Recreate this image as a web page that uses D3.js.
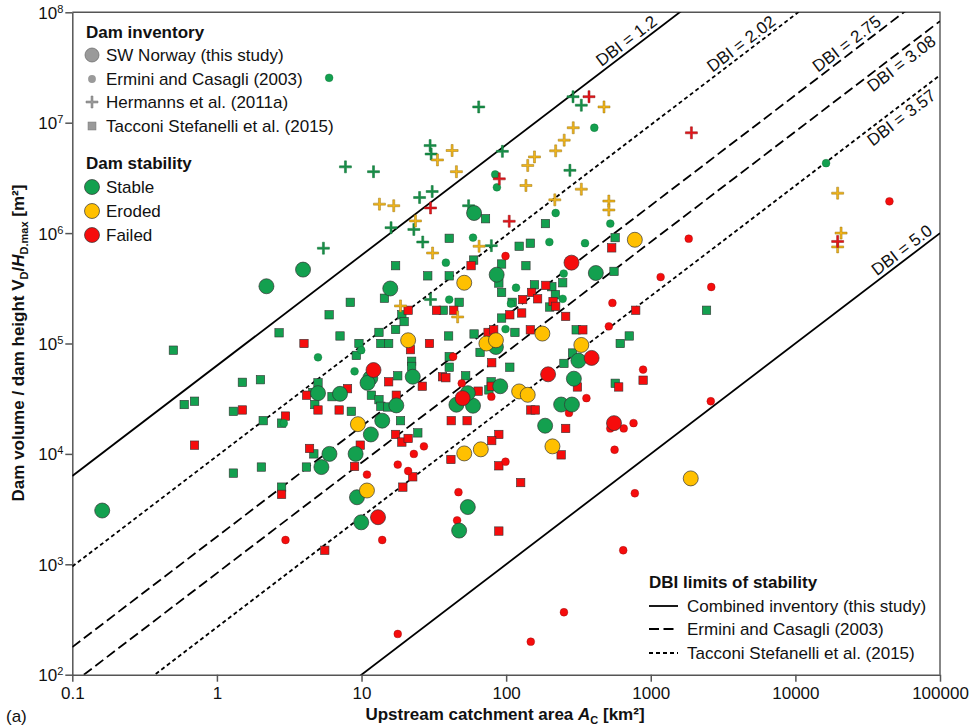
<!DOCTYPE html>
<html><head><meta charset="utf-8">
<script src="https://cdn.jsdelivr.net/npm/d3@7"></script>
<style>
body{margin:0;background:#fff;}
text{font-family:"Liberation Sans",Arial,Helvetica,sans-serif;fill:#111;}
</style>
</head><body>
<svg id="chart" width="969" height="728"></svg>
<script>
// ---------------- DATA ([catchment area km², V/H m²]) ----------------
const norwayStable = [[0.161,3070],[2.2,3.3e5],[3.94,4.67e5],[60,1.52e6],[86,4.2e5],[417,4.35e5],[15.8,3.15e5],
 [5.0,3.55e4],[7.1,3.5e4],[11.5,4.86e4],[11,4.4e4],[22.6,5.0e4],[17.4,2.75e4],[13.9,2.0e4],[11.6,1.5e4],
 [6.0,1.0e4],[9.1,1.0e4],[5.28,7.6e3],[9.3,4.05e3],[9.95,2.4e3],[54.3,3.3e3],[47.3,2.02e3],[85,9.3e4],
 [91,4.1e4],[45.3,2.79e4],[59,2.73e4],[54.3,3.55e4],[316,7.0e4],[294,4.8e4],[240,2.8e4],[285,2.8e4],[186,1.8e4]];
const norwayEroded = [[51.3,3.55e5],[21,1.07e5],[73,1.0e5],[85,1.07e5],[178,1.23e5],[331,9.7e4],[123,3.68e4],
 [141,3.43e4],[9.44,1.86e4],[209,1.17e4],[51.3,1.01e4],[66.8,1.1e4],[10.9,4.66e3],[1890,6.0e3],[776,8.7e5]];
const norwayFailed = [[283,5.4e5],[12.1,5.75e4],[390,7.4e4],[195,5.26e4],[50,3.2e4],[557,1.9e4],[13.0,2.67e3]];

const erminiStable = [[5.97,2.55e7],[407,9.0e6],[84,3.4e6],[86.3,2.6e6],[525,1.22e6],[220,1.52e6],[59,9.1e5],
 [199,8.3e5],[351,8.1e5],[38.3,5.4e5],[250,4.3e5],[40.4,2.5e5],[117,3.2e5],[246,2.54e5],[108,2.3e5],[99,1.35e5],
 [5.0,7.5e4],[9.95,8.7e4],[8.95,5.6e4],[16300,4.3e6],[2.9,1.9e4]];
const erminiFailed = [[99,6.2e5],[1830,8.9e5],[1170,4.0e5],[2620,3.25e5],[543,2.33e5],[513,1.43e5],[885,5.8e4],
 [2600,3.0e4],[525,1.7e4],[650,1.7e4],[760,1.9e4],[359,3.2e4],[272,2.35e4],[562,1.09e4],[776,4.4e3],[645,1.34e3],
 [44700,1.94e6],[43,7.6e4],[49.3,4.36e4],[79,3.3e4],[27,1.17e4],[23,1.0e4],[17.8,8.0e3],[21,7.0e3],[10.9,6.5e3],
 [99,8.5e3],[46.8,4.5e3],[45.8,2.5e3],[13.9,1.66e3],[2.98,1.66e3],[17.8,234],[148,199],[251,368]];

const hermannsStable = [[64.6,1.39e7],[290,1.72e7],[331,1.44e7],[276,3.7e6],[7.74,3.98e6],[12.1,3.6e6],[29.8,6.2e6],
 [30.3,5.2e6],[94.2,5.5e6],[25.2,2.1e6],[30.8,2.38e6],[55,1.77e6],[16,1.12e6],[23,1.08e6],[26.5,8.3e5],[5.45,7.3e5],
 [79,7.7e5],[30,2.5e5]];
const hermannsEroded = [[475,1.39e7],[291,9.0e6],[252,6.95e6],[220,5.56e6],[157,4.9e6],[141,4.1e6],[137,2.7e6],
 [331,2.5e6],[217,2.0e6],[513,1.95e6],[513,1.62e6],[42.3,5.6e6],[33.5,4.6e6],[45.3,3.6e6],[13.3,1.83e6],[16.7,1.77e6],
 [23.6,1.29e6],[31,6.6e5],[65,7.6e5],[18.6,2.19e5],[46.2,1.74e5],[19600,2.3e6],[20700,1.0e6],[19600,7.5e5]];
const hermannsFailed = [[374,1.72e7],[1910,8.1e6],[89.7,3.1e6],[30,1.69e6],[105,1.28e6],[19600,8.4e5]];

const tacconiStable = [[72,1.35e6],[187,1.22e6],[40.4,8.97e5],[123,7.6e5],[147,8.1e5],[567,9.1e5],[17.2,5.07e5],
 [59.6,5.7e5],[93,5.25e5],[89,3.53e5],[137,5.07e5],[557,4.5e5],[28.7,4.1e5],[40.4,4.1e5],[14.4,2.57e5],[8.36,2.36e5],
 [5.97,1.82e5],[47.3,2.36e5],[36.7,2.0e5],[19,1.82e5],[19.7,1.58e5],[17.2,1.34e5],[13.2,1.26e5],[7.1,1.17e5],
 [9.6,1.0e5],[13.6,1.0e5],[15.4,1.0e5],[40,1.17e5],[9.2,7.8e4],[22.2,6.9e4],[22.2,6.2e4],[40.4,7.6e4],[40.4,6.1e4],
 [60,1.22e5],[115,1.26e5],[157,3.4e5],[207,3.27e5],[246,3.55e5],[219,2.77e5],[93,1.7e5],[110,2.36e5],[93,2.9e5],
 [200,2.14e5],[305,1.33e5],[2430,2.0e5],[710,1.17e5],[615,1.0e5],[288,8.2e4],[251,6.6e4],[568,4.36e4],[78.7,4.5e4],
 [76,3.8e4],[52.5,5.1e4],[106,6.1e4],[66,8.3e4],[17.8,5.1e4],[11.7,3.4e4],[13.2,3.1e4],[13.6,2.7e4],[15.2,2.66e4],
 [18.6,2.0e4],[24.5,1.55e4],[8.5,2.43e4],[0.5,8.7e4],[2.69,1.25e5],[1.5,4.45e4],[2.0,4.7e4],[0.594,2.8e4],
 [0.70,3.0e4],[1.3,2.43e4],[2.09,2.0e4],[2.8,1.9e4],[5.0,4.4e4],[4.6,3.6e4],[4.75,2.8e4],[6.25,3.3e4],[4.68,1.0e4],
 [1.30,6.7e3],[2.03,7.6e3],[4.16,7.6e3],[2.8,5.0e3]];
const tacconiFailed = [[537,7.35e5],[57.2,5.07e5],[21,2.0e5],[33,2.0e5],[43.4,2.0e5],[4.0,1.0e5],[21.8,8.8e4],
 [29.5,1.0e5],[75,1.26e5],[82,1.33e5],[106,1.82e5],[128,1.89e5],[147,1.33e5],[130,2.5e5],[150,2.9e5],[165,2.54e5],
 [188,3.36e5],[211,2.4e5],[220,2.17e5],[258,1.76e5],[339,1.33e5],[787,2.0e5],[885,4.65e4],[600,4.04e4],[311,4.04e4],
 [148,2.5e4],[159,2.5e4],[258,1.7e4],[240,9.8e3],[89,1.5e4],[79.5,1.32e4],[89,7.8e3],[41.7,2.0e4],[53.7,2.0e4],
 [41.5,8.9e3],[126,5.5e3],[89,2.0e3],[79,4.1e4],[64,3.7e4],[36.3,5.0e4],[38.3,4.9e4],[79.5,6.7e4],[26.3,4.1e4],
 [15.4,4.5e4],[17.4,3.4e4],[17.2,1.5e4],[19,1.28e4],[21,1.38e4],[22.6,6.2e3],[19.3,5.0e3],[8.95,7.7e3],[9.8,1.2e4],
 [4.37,1.12e4],[7.0,2.5e4],[8.0,3.9e4],[4.17,3.4e4],[5.0,2.5e4],[1.5,2.5e4],[2.98,2.2e4],[0.70,1.2e4],[2.8,4.3e3],
 [5.57,1.34e3]];

const dbiValues = [1.2, 2.02, 2.75, 3.08, 3.57, 5.0];
const dbiLabels = ["1.2","2.02","2.75","3.08","3.57","5.0"];
const dbiSources = ["combined","tacconi","ermini","ermini","tacconi","combined"];

const xTicks = [0.1, 1, 10, 100, 1000, 10000, 100000];
const xTickLabels = ["0.1","1","10","100","1000","10000","100000"];
const yTicks = [1e2, 1e3, 1e4, 1e5, 1e6, 1e7, 1e8];
const yTickExponents = ["2","3","4","5","6","7","8"];

const inventoryLabels = ["SW Norway (this study)","Ermini and Casagli (2003)","Hermanns et al. (2011a)","Tacconi Stefanelli et al. (2015)"];
const stabilityLabels = ["Stable","Eroded","Failed"];
const dbiLegendLabels = ["Combined inventory (this study)","Ermini and Casagli (2003)","Tacconi Stefanelli et al. (2015)"];

// ---------------- STYLE ----------------
const colors = {stable:"#13a04f", eroded:"#ffc000", failed:"#f60c0c"};
const darker = {stable:"#0c6e33", eroded:"#9a7410", failed:"#8e1010"};
const crossFill = {stable:"#178f48", eroded:"#f2b519", failed:"#e8141b"};
const dash = {combined:null, ermini:"10,4.5", tacconi:"4,3"};

const svg = d3.select("#chart");
const L = 72.3, R = 940, T = 12.3, B = 674.7;
const x = d3.scaleLog().domain([0.1, 1e5]).range([L, R]);
const y = d3.scaleLog().domain([1e2, 1e8]).range([B, T]);

svg.append("defs").append("clipPath").attr("id","plotclip")
  .append("rect").attr("x",L).attr("y",T).attr("width",R-L).attr("height",B-T);

// frame (top/right)
svg.append("path").attr("d",`M${L},${T}H${R}V${B}`).attr("fill","none").attr("stroke","#555").attr("stroke-width",1.4);

// axes
const axisColor = "#555";
const gx = svg.append("g").attr("transform",`translate(0,${B})`)
  .call(d3.axisBottom(x).tickValues(xTicks).tickFormat((d,i)=>xTickLabels[i]).tickSize(7).tickSizeOuter(0).tickPadding(5));
gx.selectAll("text").attr("font-size",17).attr("fill","#111").attr("font-family","Liberation Sans, Arial, sans-serif");
const gy = svg.append("g").attr("transform",`translate(${L},0)`)
  .call(d3.axisLeft(y).tickValues(yTicks).tickFormat("").tickSize(7).tickSizeOuter(0));
gy.selectAll(".tick").append("text")
  .attr("x",-9).attr("dy","0.35em").attr("text-anchor","end").attr("font-size",17).attr("fill","#111")
  .each(function(d,i){
    const t = d3.select(this);
    t.append("tspan").text("10");
    t.append("tspan").attr("dy","-0.55em").attr("font-size",11).text(yTickExponents[i]);
  });
[gx,gy].forEach(g=>{ g.select(".domain").attr("stroke",axisColor).attr("stroke-width",1.5);
  g.selectAll(".tick line").attr("stroke",axisColor).attr("stroke-width",1.5); });

// DBI lines
const plot = svg.append("g").attr("clip-path","url(#plotclip)");
const lineV = (a, dbi) => a*1e6/Math.pow(10, dbi);
dbiValues.forEach((dbi,i)=>{
  plot.append("line")
    .attr("x1",x(0.1)).attr("y1",y(lineV(0.1,dbi)))
    .attr("x2",x(1e5)).attr("y2",y(lineV(1e5,dbi)))
    .attr("stroke","#000").attr("stroke-width",1.8)
    .attr("stroke-dasharray",dash[dbiSources[i]]);
});
// DBI labels
const ang = Math.atan2(y(1e2)-y(1e3), x(1)-x(0.1));
const u = [Math.cos(ang), -Math.sin(ang)], nUp = [-Math.sin(ang), -Math.cos(ang)];
const belowLabels = {3.08:true, 3.57:true};
dbiValues.forEach((dbi,i)=>{
  let aEnd = Math.min(1e5, 1e8*Math.pow(10,dbi)/1e6);
  const ex = x(aEnd), ey = y(lineV(aEnd,dbi));
  const topEnd = aEnd < 1e5;
  const d = topEnd ? 24 : (belowLabels[dbi] ? 16 : 5);
  const off = belowLabels[dbi] ? -16 : 4;
  const px = ex - d*u[0] + off*nUp[0], py = ey - d*u[1] + off*nUp[1];
  svg.append("text").attr("transform",`translate(${px},${py}) rotate(${-ang*180/Math.PI})`)
    .attr("text-anchor","end").attr("font-size",17).text(`DBI = ${dbiLabels[i]}`);
});

// markers
const crossPath = (h=6,w=1.0)=>`M${-h},${-w}H${-w}V${-h}H${w}V${-w}H${h}V${w}H${w}V${h}H${-w}V${w}H${-h}Z`;
const pts = svg.append("g").attr("clip-path","url(#plotclip)");
function squares(data, st){
  pts.append("g").selectAll("rect").data(data).join("rect")
   .attr("x",d=>x(d[0])-4.2).attr("y",d=>y(d[1])-4.2).attr("width",8.4).attr("height",8.4)
   .attr("fill",colors[st]).attr("stroke","#333").attr("stroke-width",0.6);
}
function dots(data, st){
  pts.append("g").selectAll("circle").data(data).join("circle")
   .attr("cx",d=>x(d[0])).attr("cy",d=>y(d[1])).attr("r",3.9)
   .attr("fill",colors[st]).attr("stroke",darker[st]).attr("stroke-width",0.4);
}
function crosses(data, st){
  pts.append("g").selectAll("path").data(data).join("path")
   .attr("transform",d=>`translate(${x(d[0])},${y(d[1])})`).attr("d",crossPath())
   .attr("fill",crossFill[st]).attr("stroke",darker[st]).attr("stroke-width",0.5);
}
function bigs(data, st){
  pts.append("g").selectAll("circle").data(data).join("circle")
   .attr("cx",d=>x(d[0])).attr("cy",d=>y(d[1])).attr("r",7.5)
   .attr("fill",colors[st]).attr("stroke","#333").attr("stroke-width",0.7);
}
squares(tacconiStable,"stable"); squares(tacconiFailed,"failed");
dots(erminiStable,"stable"); dots(erminiFailed,"failed");
crosses(hermannsStable,"stable"); crosses(hermannsEroded,"eroded"); crosses(hermannsFailed,"failed");
bigs(norwayStable,"stable"); bigs(norwayEroded,"eroded"); bigs(norwayFailed,"failed");

// ---------------- LEGENDS ----------------
const lg = svg.append("g");
lg.append("text").attr("x",86).attr("y",38).attr("font-size",17).attr("font-weight","bold").text("Dam inventory");
const invY = [55,79,102,126];
const gray = "#9a9a9a";
inventoryLabels.forEach((t,i)=>{
  lg.append("text").attr("x",106).attr("y",invY[i]+6).attr("font-size",17).text(t);
});
lg.append("circle").attr("cx",92).attr("cy",invY[0]).attr("r",7).attr("fill",gray).attr("stroke","#666").attr("stroke-width",0.7);
lg.append("circle").attr("cx",92).attr("cy",invY[1]).attr("r",3.9).attr("fill",gray);
lg.append("path").attr("transform",`translate(92,${invY[2]})`).attr("d",crossPath()).attr("fill",gray).attr("stroke","#777").attr("stroke-width",0.5);
lg.append("rect").attr("x",92-4).attr("y",invY[3]-4).attr("width",8).attr("height",8).attr("fill",gray).attr("stroke","#777").attr("stroke-width",0.5);

lg.append("text").attr("x",86).attr("y",169).attr("font-size",17).attr("font-weight","bold").text("Dam stability");
const stY = [187,211,235];
["stable","eroded","failed"].forEach((s,i)=>{
  lg.append("circle").attr("cx",92).attr("cy",stY[i]).attr("r",7.5).attr("fill",colors[s]).attr("stroke","#333").attr("stroke-width",0.7);
  lg.append("text").attr("x",106).attr("y",stY[i]+6).attr("font-size",17).text(stabilityLabels[i]);
});

lg.append("text").attr("x",649).attr("y",588).attr("font-size",17).attr("font-weight","bold").text("DBI limits of stability");
const dY = [606,629,653];
["combined","ermini","tacconi"].forEach((s,i)=>{
  lg.append("line").attr("x1",649).attr("x2",678).attr("y1",dY[i]).attr("y2",dY[i])
    .attr("stroke","#000").attr("stroke-width",1.8).attr("stroke-dasharray",dash[s]);
  lg.append("text").attr("x",687).attr("y",dY[i]+6).attr("font-size",17).text(dbiLegendLabels[i]);
});

// axis titles
const xt = svg.append("text").attr("x",505).attr("y",720).attr("text-anchor","middle").attr("font-size",17).attr("font-weight","bold");
xt.append("tspan").text("Upstream catchment area ");
xt.append("tspan").attr("font-style","italic").text("A");
xt.append("tspan").attr("font-size",11).attr("dy",4).text("C");
xt.append("tspan").attr("dy",-4).text(" [km²]");

const yt = svg.append("text").attr("transform","translate(24,343) rotate(-90)").attr("text-anchor","middle").attr("font-size",17).attr("font-weight","bold");
yt.append("tspan").text("Dam volume / dam height V");
yt.append("tspan").attr("font-size",11).attr("dy",4).text("D");
yt.append("tspan").attr("dy",-4).text("/");
yt.append("tspan").attr("font-style","italic").text("H");
yt.append("tspan").attr("font-size",11).attr("dy",4).text("D.max");
yt.append("tspan").attr("dy",-4).text(" [m²]");

svg.append("text").attr("x",6).attr("y",722).attr("font-size",17).text("(a)");
</script>
</body></html>
